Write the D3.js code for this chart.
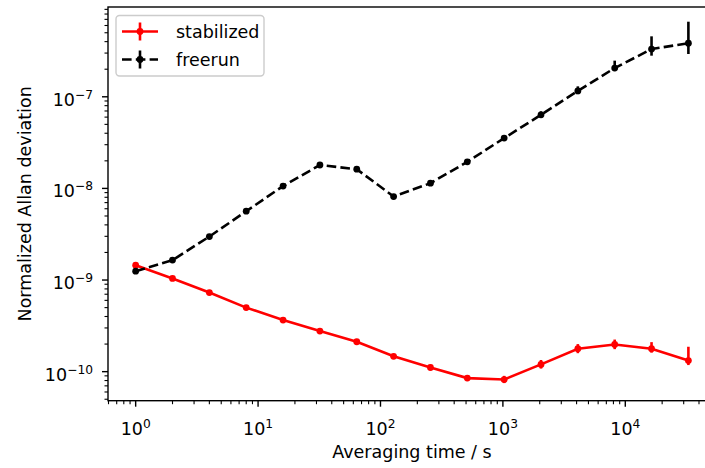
<!DOCTYPE html>
<html>
<head>
<meta charset="utf-8">
<script src="https://cdn.jsdelivr.net/npm/d3@7"></script>
<style>
  body { margin: 0; background: #fff; }
  text { font-family: "DejaVu Sans", sans-serif; fill: #000; }
</style>
</head>
<body>
<svg id="chart" width="705" height="468"></svg>
<script>
// averaging times (s)
const tau = [1, 2, 4, 8, 16, 32, 64, 128, 256, 512, 1024, 2048, 4096, 8192, 16384, 32768];

// stabilized
const stabilized = [1.45e-9, 1.04e-9, 7.3e-10, 5.0e-10, 3.66e-10, 2.77e-10, 2.12e-10, 1.47e-10,
  1.11e-10, 8.5e-11, 8.2e-11, 1.20e-10, 1.78e-10, 1.98e-10, 1.78e-10, 1.32e-10];
const stabErrLo = [6e-11, 3e-11, 2e-11, 1.5e-11, 1.2e-11, 1.0e-11, 0.9e-11, 0.8e-11,
  0.7e-11, 0.6e-11, 0.7e-11, 1.2e-11, 1.9e-11, 2.2e-11, 1.7e-11, 1.4e-11];
const stabErrHi = [7e-11, 3e-11, 2e-11, 1.5e-11, 1.3e-11, 1.1e-11, 1.0e-11, 0.9e-11,
  0.8e-11, 0.7e-11, 0.8e-11, 1.4e-11, 2.2e-11, 2.6e-11, 3.2e-11, 5.5e-11];

// freerun
const freerun = [1.25e-9, 1.65e-9, 2.98e-9, 5.64e-9, 1.06e-8, 1.80e-8, 1.62e-8, 8.15e-9,
  1.14e-8, 1.95e-8, 3.54e-8, 6.35e-8, 1.16e-7, 2.06e-7, 3.32e-7, 3.84e-7];
const freeErrLo = [4e-11, 5e-11, 9e-11, 1.7e-10, 3.2e-10, 5.5e-10, 5.5e-10, 3.0e-10,
  4.5e-10, 8e-10, 1.5e-9, 4e-9, 9e-9, 1.5e-8, 5.1e-8, 9.1e-8];
const freeErrHi = [4e-11, 5e-11, 9e-11, 1.7e-10, 3.4e-10, 6e-10, 6e-10, 3.3e-10,
  5e-10, 9e-10, 2e-9, 6e-9, 1.4e-8, 4.2e-8, 1.25e-7, 2.76e-7];

const xMajor = [1, 10, 100, 1000, 10000];
const xMajorExp = ["0", "1", "2", "3", "4"];
const yMajor = [1e-10, 1e-9, 1e-8, 1e-7];
const yMajorExp = ["\u221210", "\u22129", "\u22128", "\u22127"];

const seriesNames = ["stabilized", "freerun"];

const fs = 17.5;
const lw = 2.6;
const plot = { left: 108, right: 716, top: 7, bottom: 400.7 };

const svg = d3.select("#chart");

const x = d3.scaleLog()
  .domain([Math.pow(10, -0.226), Math.pow(10, 4.741)])
  .range([plot.left, plot.right]);
const y = d3.scaleLog()
  .domain([Math.pow(10, -10.317), Math.pow(10, -6.02)])
  .range([plot.bottom, plot.top]);

// minor ticks from the scale domain
function minorTicks(scale) {
  const [a, b] = scale.domain();
  const out = [];
  for (let e = Math.floor(Math.log10(a)); e <= Math.ceil(Math.log10(b)); e++) {
    for (let m = 2; m <= 9; m++) {
      const v = m * Math.pow(10, e);
      if (v >= a && v <= b) out.push(v);
    }
  }
  return out;
}

const axes = svg.append("g");

// x ticks
axes.selectAll(".xminor").data(minorTicks(x)).enter().append("line")
  .attr("x1", d => x(d)).attr("x2", d => x(d))
  .attr("y1", plot.bottom).attr("y2", plot.bottom + 3.5)
  .attr("stroke", "#000").attr("stroke-width", 1.1);
axes.selectAll(".xmajor").data(xMajor).enter().append("line")
  .attr("x1", d => x(d)).attr("x2", d => x(d))
  .attr("y1", plot.bottom).attr("y2", plot.bottom + 6)
  .attr("stroke", "#000").attr("stroke-width", 1.4);

const xl = axes.selectAll(".xlab").data(xMajor).enter().append("text")
  .attr("x", d => x(d)).attr("y", plot.bottom + 34)
  .attr("text-anchor", "middle")
  .attr("font-size", fs);
xl.append("tspan").text("10");
xl.append("tspan").attr("dy", -7).attr("font-size", fs * 0.7).text((d, i) => xMajorExp[i]);

// y ticks
axes.selectAll(".yminor").data(minorTicks(y)).enter().append("line")
  .attr("x1", plot.left).attr("x2", plot.left - 3.5)
  .attr("y1", d => y(d)).attr("y2", d => y(d))
  .attr("stroke", "#000").attr("stroke-width", 1.1);
axes.selectAll(".ymajor").data(yMajor).enter().append("line")
  .attr("x1", plot.left).attr("x2", plot.left - 6)
  .attr("y1", d => y(d)).attr("y2", d => y(d))
  .attr("stroke", "#000").attr("stroke-width", 1.4);

const yl = axes.selectAll(".ylab").data(yMajor).enter().append("text")
  .attr("x", plot.left - 15).attr("y", d => y(d) + 9)
  .attr("text-anchor", "end")
  .attr("font-size", fs);
yl.append("tspan").text("10");
yl.append("tspan").attr("dy", -7).attr("font-size", fs * 0.7).text((d, i) => yMajorExp[i]);

// axis labels
svg.append("text")
  .attr("x", (plot.left + plot.right) / 2).attr("y", 458)
  .attr("text-anchor", "middle").attr("font-size", fs)
  .text("Averaging time / s");
svg.append("text")
  .attr("transform", `translate(31,${(plot.top + plot.bottom) / 2}) rotate(-90)`)
  .attr("text-anchor", "middle").attr("font-size", fs)
  .text("Normalized Allan deviation");

// data
const line = d3.line().x(d => x(d[0])).y(d => y(d[1]));

function drawSeries(vals, lo, hi, color, dash) {
  const pts = tau.map((t, i) => [t, vals[i], lo[i], hi[i]]);
  const g = svg.append("g");
  g.selectAll("line.err").data(pts).enter().append("line")
    .attr("x1", d => x(d[0])).attr("x2", d => x(d[0]))
    .attr("y1", d => y(d[1] - d[2])).attr("y2", d => y(d[1] + d[3]))
    .attr("stroke", color).attr("stroke-width", lw);
  g.append("path").datum(pts)
    .attr("d", line)
    .attr("fill", "none").attr("stroke", color).attr("stroke-width", lw)
    .attr("stroke-dasharray", dash);
  g.selectAll("circle").data(pts).enter().append("circle")
    .attr("cx", d => x(d[0])).attr("cy", d => y(d[1])).attr("r", 3.4)
    .attr("fill", color);
}

drawSeries(stabilized, stabErrLo, stabErrHi, "#ff0000", null);
drawSeries(freerun, freeErrLo, freeErrHi, "#000000", "9.6,4.2");

// frame (right spine is outside the picture)
svg.append("rect")
  .attr("x", plot.left).attr("y", plot.top)
  .attr("width", plot.right - plot.left).attr("height", plot.bottom - plot.top)
  .attr("fill", "none").attr("stroke", "#000").attr("stroke-width", 1.4);

// legend
const leg = svg.append("g").attr("transform", "translate(116,15.5)");
leg.append("rect")
  .attr("width", 148).attr("height", 60.5).attr("rx", 3.5)
  .attr("fill", "#fff").attr("fill-opacity", 0.8)
  .attr("stroke", "#cccccc").attr("stroke-width", 1.4);
const legColors = ["#ff0000", "#000000"];
const legDash = [null, "9.6,4.2"];
seriesNames.forEach((name, i) => {
  const cy = 16 + i * 28;
  leg.append("line").attr("x1", 6).attr("x2", 42).attr("y1", cy).attr("y2", cy)
    .attr("stroke", legColors[i]).attr("stroke-width", lw).attr("stroke-dasharray", legDash[i]);
  leg.append("line").attr("x1", 24).attr("x2", 24).attr("y1", cy - 9).attr("y2", cy + 9)
    .attr("stroke", legColors[i]).attr("stroke-width", lw);
  leg.append("circle").attr("cx", 24).attr("cy", cy).attr("r", 3.4).attr("fill", legColors[i]);
  leg.append("text").attr("x", 60).attr("y", cy + 6).attr("font-size", fs).text(name);
});
</script>
</body>
</html>
